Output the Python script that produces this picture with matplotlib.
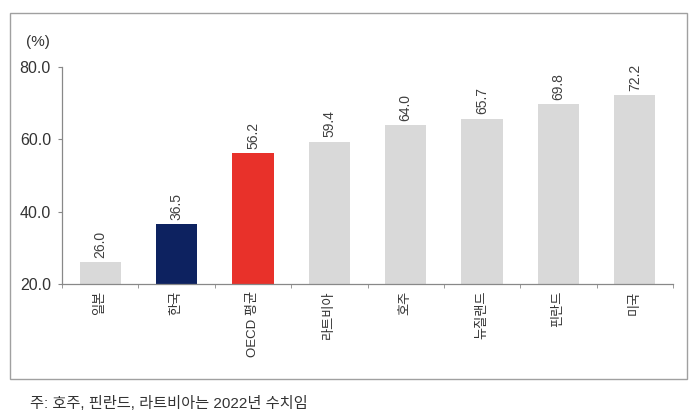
import matplotlib
matplotlib.use("Agg")
import matplotlib.pyplot as plt
from matplotlib.patches import Rectangle
import numpy as np

categories = ["일본", "한국", "OECD 평균", "라트비아", "호주", "뉴질랜드", "핀란드", "미국"]
values = [26.0, 36.5, 56.2, 59.4, 64.0, 65.7, 69.8, 72.2]
colors = ["#D9D9D9", "#0D2260", "#E8312A", "#D9D9D9", "#D9D9D9", "#D9D9D9", "#D9D9D9", "#D9D9D9"]
yticks = [20.0, 40.0, 60.0, 80.0]
footnote = "주: 호주, 핀란드, 라트비아는 2022년 수치임"

plt.rcParams['font.family'] = ['Liberation Sans', 'Noto Sans CJK KR', 'DejaVu Sans']

fig = plt.figure(figsize=(7.0, 4.19), dpi=100)
ax = fig.add_axes([62/700, 1-284/419, (673-62)/700, (284-67)/419])

x = np.arange(len(categories))
ax.bar(x, [v - 20 for v in values], bottom=20, width=0.54, color=colors, zorder=2)
for xi, v in zip(x, values):
    ax.text(xi, v + 1.2, f"{v:.1f}", rotation=90, ha='center', va='bottom',
            fontsize=10, color='#404040')

ax.set_xlim(-0.5, len(categories) - 0.5)
ax.set_ylim(20, 80)
ax.set_yticks(yticks)
ax.set_yticklabels([f"{t:.1f}" for t in yticks], fontsize=11.5, color='#333333')
ax.set_xticks(x)
ax.set_xticklabels(categories, rotation=90, fontsize=9.5, color='#333333', va='top')
ax.set_xticks(np.arange(-0.5, len(categories)), minor=True)
ax.tick_params(axis='x', which='major', length=0, pad=5)
ax.tick_params(axis='x', which='minor', length=3, color='#888888', direction='out')
ax.tick_params(axis='y', length=3, color='#888888', pad=5)

for s in ['top', 'right']:
    ax.spines[s].set_visible(False)
for s in ['left', 'bottom']:
    ax.spines[s].set_color('#888888')
    ax.spines[s].set_linewidth(0.9)

fig.text(38/700, 1-42/419, "(%)", fontsize=11, ha='center', va='center', color='#333333')

border = Rectangle((10/700, 1-379/419), (687-10)/700, (379-13)/419, transform=fig.transFigure,
                   fill=False, edgecolor='#A0A0A0', linewidth=1.0)
fig.patches.append(border)

fig.text(30/700, 1-403/419, footnote, fontsize=11, ha='left', va='center', color='#333333')

fig.savefig("out.png", dpi=100)
